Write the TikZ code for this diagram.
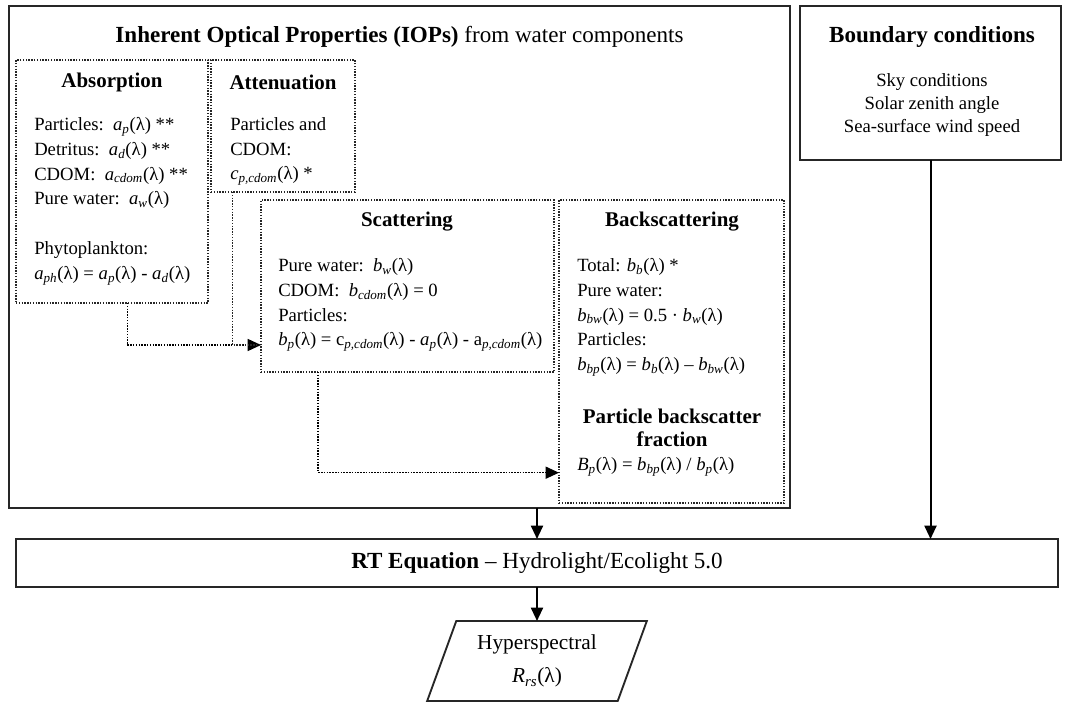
\documentclass[tikz,border=0pt]{standalone}
\usepackage{fontspec}
\setmainfont{Liberation Serif}
\usetikzlibrary{arrows.meta,calc,shapes.geometric}
\newcommand{\fn}[2]{\textit{#1}\textsubscript{\textit{#2}}(λ)}

\begin{document}
\begin{tikzpicture}[x=0.75pt, y=-0.75pt,
      mybox/.style={
         draw=black!85,
         line width=1.4pt,
         inner sep=0pt,
         outer sep=0pt},
      mydotbox/.style={draw=black!85, line width=1.1pt, densely dotted, inner sep=0pt, outer sep=0pt},
      myarrow/.style={-{Triangle[length=10pt,width=9pt]}, line width=1.5pt},
      mydotarrow/.style={-{Triangle[length=10pt,width=9pt]}, line width=1.1pt, densely dotted},
      mytitle/.style={font=\fontsize{17.3}{21}\selectfont, inner sep=0pt},
      myhead/.style={font=\bfseries\fontsize{15.7}{17.3}\selectfont, inner sep=0pt, align=center},
      mytext/.style={font=\fontsize{14}{18.6}\selectfont, inner sep=0pt, align=left, anchor=north west}
      ]
      \useasboundingbox (0,0) rectangle (1065,702);

      % outer boxes
      \node[mybox, minimum width=585.75pt, minimum height=376.5pt] (iop) at (399.5,257) {};
      \node[mybox, minimum width=195.75pt, minimum height=115.5pt] (bound) at (930.5,83) {};
      \node[mybox, minimum width=781.5pt, minimum height=36pt, font=\fontsize{17.3}{21}\selectfont] (rte) at (537,563)
         {\textbf{RT Equation} – Hydrolight/Ecolight 5.0};
      \node[mybox, trapezium, trapezium left angle=67.6, trapezium right angle=112.4, trapezium stretches=true,
         minimum width=165pt, minimum height=60pt, align=center, font=\fontsize{16}{24.75}\selectfont] (rrs) at (537,661)
         {Hyperspectral\\\fn{R}{rs}};

      % IOP boxes
      \node[mydotbox, minimum width=144pt, minimum height=182.25pt] (absorp) at (112,181.5) {};
      \node[mydotbox, minimum width=108pt, minimum height=99pt] (atten) at (283,126) {};
      \node[mydotbox, minimum width=219.75pt, minimum height=129pt] (scatt) at (407.5,286) {};
      \node[mydotbox, minimum width=168.75pt, minimum height=227.25pt] (backsc) at (671.5,351.5) {};

      % titles and texts
      \node[mytitle] (ioptitle) at (399.5,37) {\textbf{Inherent Optical Properties (IOPs)} from water components};
      \node[mytitle] (boundtitle) at (932,37) {\textbf{Boundary conditions}};
      \node[mytext, align=center, anchor=north, font=\fontsize{14}{17.3}\selectfont] (boundtext) at (932,73)
         {Sky conditions\\Solar zenith angle\\Sea-surface wind speed};

      \node[myhead] (absorptitle) at (112,82) {Absorption};
      \node[mytext] (absorptext) at (34,117) {Particles:\ \ \fn{a}{p} **\\
         Detritus:\ \ \fn{a}{d} **\\
         CDOM:\ \ \fn{a}{cdom} **\\
         Pure water:\ \ \fn{a}{w}\\[18.6pt]
         Phytoplankton:\\
         \fn{a}{ph} = \fn{a}{p} - \fn{a}{d}};

      \node[myhead] (attentitle) at (283,82) {Attenuation};
      \node[mytext] (attentext) at (230,117) {Particles and\\CDOM:\\\fn{c}{p,cdom} *};

      \node[myhead] (scatttitle) at (407,222) {Scattering};
      \node[mytext] (scatttext) at (278,258) {Pure water:\ \ \fn{b}{w}\\
         CDOM:\ \ \fn{b}{cdom} = 0\\
         Particles:\\
         \fn{b}{p} = c\textsubscript{\textit{p,cdom}}(λ) - \fn{a}{p} - a\textsubscript{\textit{p,cdom}}(λ)};

      \node[myhead] (backsctitle) at (672,222) {Backscattering};
      \node[mytext] (backsctext) at (577,258) {Total: \fn{b}{b} *\\
         Pure water:\\
         \fn{b}{bw} = 0.5 · \fn{b}{w}\\
         Particles:\\
         \fn{b}{bp} = \fn{b}{b} – \fn{b}{bw}};
      \node[myhead] (fractitle) at (672,428) {Particle backscatter\\fraction};
      \node[mytext, anchor=west] (fractext) at (577,467) {\fn{B}{p} = \fn{b}{bp} / \fn{b}{p}};

      % solid arrows
      \foreach \i/\j/\k in {iop/rte/rrs, bound/rte/bound, rte/rrs/rrs}
         \draw[myarrow] (\i.south -| \k) -- (\j.north -| \k);

      % dotted arrows
      \coordinate (s1) at ($(scatt.north west)!0.843!(scatt.south west)$);
      \coordinate (s2) at ($(backsc.north west)!0.90!(backsc.south west)$);
      \draw[mydotarrow] ($(absorp.south west)!0.58!(absorp.south east)$) |- (s1);
      \draw[mydotbox] ($(atten.south west)!0.15!(atten.south east)$) |- (s1);
      \draw[mydotarrow] ($(scatt.south west)!0.195!(scatt.south east)$) |- (s2);
\end{tikzpicture}
\end{document}
